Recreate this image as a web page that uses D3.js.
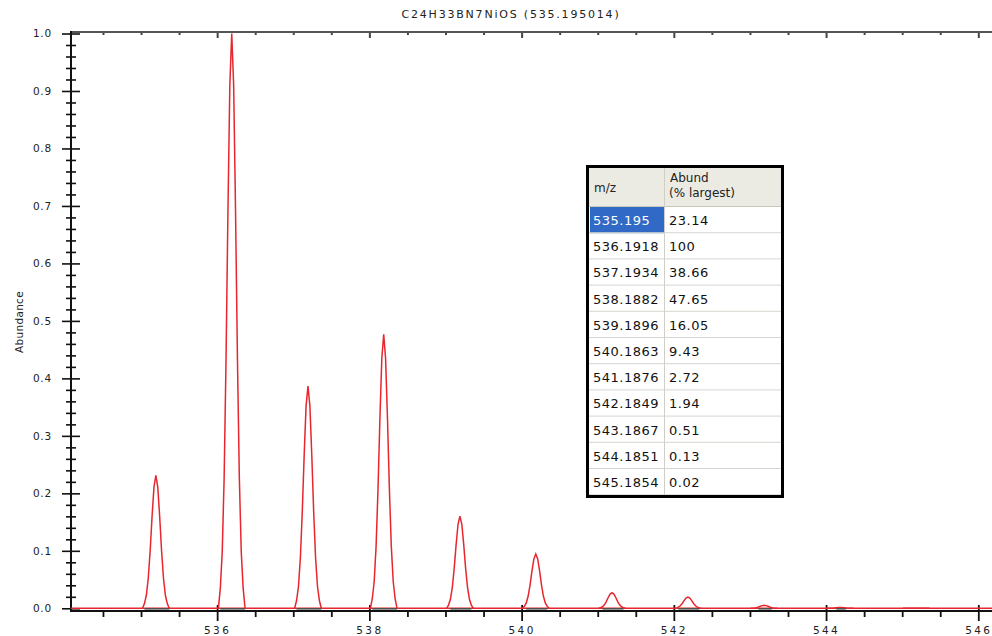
<!DOCTYPE html>
<html>
<head>
<meta charset="utf-8">
<script src="https://cdn.jsdelivr.net/npm/d3@7"></script>
<style>
  html, body { margin: 0; padding: 0; background: #ffffff; }
  svg { display: block; }
</style>
</head>
<body>
<svg id="chart" width="992" height="636"></svg>
<script>
// Isotope pattern of C24H33BN7NiOS
const titleText = "C24H33BN7NiOS (535.195014)";
const yAxisTitle = "Abundance";

// m/z of each isotopologue and its abundance (% of the largest peak)
const mzLabels = ["535.195", "536.1918", "537.1934", "538.1882", "539.1896", "540.1863",
                  "541.1876", "542.1849", "543.1867", "544.1851", "545.1854"];
const mzValues = [535.195, 536.1918, 537.1934, 538.1882, 539.1896, 540.1863,
                  541.1876, 542.1849, 543.1867, 544.1851, 545.1854];
const abundLabels = ["23.14", "100", "38.66", "47.65", "16.05", "9.43",
                     "2.72", "1.94", "0.51", "0.13", "0.02"];
const abundPct = [23.14, 100, 38.66, 47.65, 16.05, 9.43, 2.72, 1.94, 0.51, 0.13, 0.02];

// Instrument peak profile: offset from centroid (m/z) and relative height
const profileOffsets = [-0.175, -0.15, -0.125, -0.1, -0.075, -0.05, -0.025, 0,
                        0.025, 0.05, 0.075, 0.1, 0.125, 0.15, 0.175];
const profileShape = [0.0, 0.035, 0.098, 0.226, 0.433, 0.69, 0.911, 1.0,
                      0.911, 0.69, 0.433, 0.226, 0.098, 0.035, 0.0];

// Axis ticks
const xMajorTicks = [536, 538, 540, 542, 544, 546];
const xMajorLabels = ["536", "538", "540", "542", "544", "546"];
const yMajorTicks = [0, 0.1, 0.2, 0.3, 0.4, 0.5, 0.6, 0.7, 0.8, 0.9, 1.0];
const yMajorLabels = ["0.0", "0.1", "0.2", "0.3", "0.4", "0.5", "0.6", "0.7", "0.8", "0.9", "1.0"];
const xMinorTicks = d3.range(534.5, 546.01, 0.5).filter(v => Math.abs(v / 2 - Math.round(v / 2)) > 1e-6);
const yMinorTicks = d3.range(0.02, 1.0, 0.02).filter(v => Math.abs(v * 10 - Math.round(v * 10)) > 1e-6);

// Table header
const tableHeaders = [["m/z"], ["Abund", "(% largest)"]];

const svg = d3.select("#chart");
svg.append("rect").attr("width", 992).attr("height", 636).attr("fill", "#ffffff");

const plotLeft = 71, plotRight = 992, plotTop = 32, axisY = 611;
const x = d3.scaleLinear().domain([534.08, 546.18]).range([plotLeft, plotRight]);
const y = d3.scaleLinear().domain([0, 1]).range([608.3, 33.5]);

const tickFont = "'DejaVu Sans', Verdana, sans-serif";

// Title
svg.append("text")
  .attr("x", 511).attr("y", 18)
  .attr("text-anchor", "middle")
  .attr("font-family", tickFont)
  .attr("font-size", 11)
  .attr("letter-spacing", 1.8)
  .attr("fill", "#222")
  .text(titleText);

// Y-axis title
svg.append("text")
  .attr("transform", "translate(23,322) rotate(-90)")
  .attr("text-anchor", "middle")
  .attr("font-family", tickFont)
  .attr("font-size", 10.5)
  .attr("letter-spacing", 0.3)
  .attr("fill", "#222")
  .text(yAxisTitle);

// ---- Top frame axis (ticks pointing into the plot)
const topG = svg.append("g").attr("transform", `translate(0,${plotTop})`);
topG.append("g")
  .call(d3.axisBottom(x).tickValues(xMinorTicks).tickSize(3).tickFormat(""))
  .call(g => g.select(".domain").remove());
topG.append("g")
  .call(d3.axisBottom(x).tickValues(xMajorTicks).tickSize(6).tickFormat(""))
  .call(g => g.select(".domain").remove());
topG.selectAll(".tick line").attr("stroke", "#444").attr("stroke-width", 2);
topG.append("line")
  .attr("x1", plotLeft).attr("x2", plotRight).attr("y1", 0).attr("y2", 0)
  .attr("stroke", "#555").attr("stroke-width", 2);

// ---- Left axis
const leftG = svg.append("g").attr("transform", `translate(${plotLeft},0)`);
leftG.append("g")
  .call(d3.axisLeft(y).tickValues(yMinorTicks).tickSize(5).tickFormat(""))
  .call(g => g.select(".domain").remove())
  .call(g => g.selectAll(".tick line").attr("x1", 5));
leftG.append("g")
  .call(d3.axisLeft(y).tickValues(yMajorTicks).tickSize(9).tickPadding(10)
        .tickFormat((d, i) => yMajorLabels[i]))
  .call(g => g.select(".domain").remove())
  .call(g => g.selectAll(".tick line").attr("x1", 9))
  .call(g => g.selectAll(".tick text")
        .attr("font-family", tickFont).attr("font-size", 10.5)
        .attr("letter-spacing", 0.8).attr("fill", "#222"));
leftG.selectAll(".tick line").attr("stroke", "#111").attr("stroke-width", 1.6);
leftG.append("line")
  .attr("x1", 0).attr("x2", 0).attr("y1", plotTop - 1).attr("y2", axisY + 1)
  .attr("stroke", "#111").attr("stroke-width", 2);

// ---- Bottom axis
const bottomG = svg.append("g").attr("transform", `translate(0,${axisY})`);
bottomG.append("g")
  .call(d3.axisBottom(x).tickValues(xMinorTicks).tickSize(6).tickFormat(""))
  .call(g => g.select(".domain").remove());
bottomG.append("g")
  .call(d3.axisBottom(x).tickValues(xMajorTicks).tickSize(10).tickPadding(6)
        .tickFormat((d, i) => xMajorLabels[i]))
  .call(g => g.select(".domain").remove())
  .call(g => g.selectAll(".tick line").attr("y1", -6))
  .call(g => g.selectAll(".tick text")
        .attr("font-family", tickFont).attr("font-size", 10.5)
        .attr("letter-spacing", 2.4).attr("fill", "#222"));
bottomG.selectAll(".tick line").attr("stroke", "#111").attr("stroke-width", 1.8);
bottomG.append("line")
  .attr("x1", plotLeft).attr("x2", plotRight).attr("y1", 0).attr("y2", 0)
  .attr("stroke", "#111").attr("stroke-width", 2);

// ---- Spectrum
const peaks = mzValues.map((mz, i) => ({ mz, abund: abundPct[i] / 100 }));
const red = "#e8262d";

// Continuous baseline of the simulated profile
svg.append("line")
  .attr("x1", x(534.08)).attr("x2", x(546.18))
  .attr("y1", y(0)).attr("y2", y(0))
  .attr("stroke", red).attr("stroke-width", 1.5);

// Peak profiles
const line = d3.line().x(d => x(d[0])).y(d => y(d[1]));
svg.append("g").selectAll("path")
  .data(peaks)
  .join("path")
  .attr("d", p => line(profileOffsets.map((o, k) => [p.mz + o, p.abund * profileShape[k]])))
  .attr("fill", "none")
  .attr("stroke", red)
  .attr("stroke-width", 1.5)
  .attr("stroke-linejoin", "miter");

// Grey base segment under each peak where its profile is non-negligible
const baseThreshold = 0.0005;
peaks.forEach(p => {
  const idx = profileOffsets.map((o, k) => k)
    .filter(k => p.abund * Math.max(profileShape[k], 0.003) >= baseThreshold);
  if (idx.length < 2) return;
  const lo = profileOffsets[idx[0] + 1];
  const hi = profileOffsets[idx[idx.length - 1]];
  svg.append("line")
    .attr("x1", x(p.mz + lo)).attr("x2", x(p.mz + hi))
    .attr("y1", y(0) + 0.5).attr("y2", y(0) + 0.5)
    .attr("stroke", "#505050").attr("stroke-width", 1.6);
});

// ---- Peak table
const tbl = { left: 586, top: 165, width: 198, height: 333, headerH: 42, rowH: 26.2, colX: 664 };
const tableG = svg.append("g");
const innerLeft = tbl.left + 3, innerRight = tbl.left + tbl.width - 3;
const rowsTop = tbl.top + tbl.headerH;

tableG.append("rect")
  .attr("x", innerLeft).attr("y", tbl.top + 3)
  .attr("width", innerRight - innerLeft).attr("height", tbl.height - 6)
  .attr("fill", "#ffffff");
tableG.append("rect")
  .attr("x", innerLeft).attr("y", tbl.top + 3)
  .attr("width", innerRight - innerLeft).attr("height", tbl.headerH - 3)
  .attr("fill", "#ecebe3");
tableG.append("line")
  .attr("x1", innerLeft).attr("x2", innerRight)
  .attr("y1", rowsTop - 0.5).attr("y2", rowsTop - 0.5)
  .attr("stroke", "#c9c7ba").attr("stroke-width", 1);

// Selected first cell
tableG.append("rect")
  .attr("x", innerLeft + 1).attr("y", rowsTop)
  .attr("width", tbl.colX - innerLeft - 1).attr("height", tbl.rowH)
  .attr("fill", "#3169c6");

const rows = tableG.selectAll("g.row")
  .data(mzLabels.map((m, i) => ({ m, a: abundLabels[i], i })))
  .join("g").attr("class", "row")
  .attr("transform", d => `translate(0,${rowsTop + d.i * tbl.rowH})`);
rows.append("line")
  .attr("x1", innerLeft).attr("x2", innerRight)
  .attr("y1", tbl.rowH - 0.5).attr("y2", tbl.rowH - 0.5)
  .attr("stroke", "#d6d6d0").attr("stroke-width", 1);
rows.append("text")
  .attr("x", 593).attr("y", tbl.rowH / 2 + 5)
  .attr("font-family", tickFont).attr("font-size", 13).attr("letter-spacing", 0.5)
  .attr("fill", d => d.i === 0 ? "#ffffff" : "#111")
  .text(d => d.m);
rows.append("text")
  .attr("x", 669).attr("y", tbl.rowH / 2 + 5)
  .attr("font-family", tickFont).attr("font-size", 13).attr("letter-spacing", 0.5)
  .attr("fill", "#111")
  .text(d => d.a);

// Column divider
tableG.append("line")
  .attr("x1", tbl.colX + 0.5).attr("x2", tbl.colX + 0.5)
  .attr("y1", tbl.top + 3).attr("y2", tbl.top + tbl.height - 3)
  .attr("stroke", "#cfcfc8").attr("stroke-width", 1);

// Header text
tableG.append("text")
  .attr("x", 594).attr("y", tbl.top + 27)
  .attr("font-family", tickFont).attr("font-size", 12).attr("fill", "#222")
  .text(tableHeaders[0][0]);
tableG.append("text")
  .attr("x", 670).attr("y", tbl.top + 17)
  .attr("font-family", tickFont).attr("font-size", 12).attr("fill", "#222")
  .text(tableHeaders[1][0]);
tableG.append("text")
  .attr("x", 669).attr("y", tbl.top + 32)
  .attr("font-family", tickFont).attr("font-size", 12).attr("fill", "#222")
  .text(tableHeaders[1][1]);

// Outer border
tableG.append("rect")
  .attr("x", tbl.left + 1.5).attr("y", tbl.top + 1.5)
  .attr("width", tbl.width - 3).attr("height", tbl.height - 3)
  .attr("fill", "none").attr("stroke", "#000").attr("stroke-width", 3);
</script>
</body>
</html>
